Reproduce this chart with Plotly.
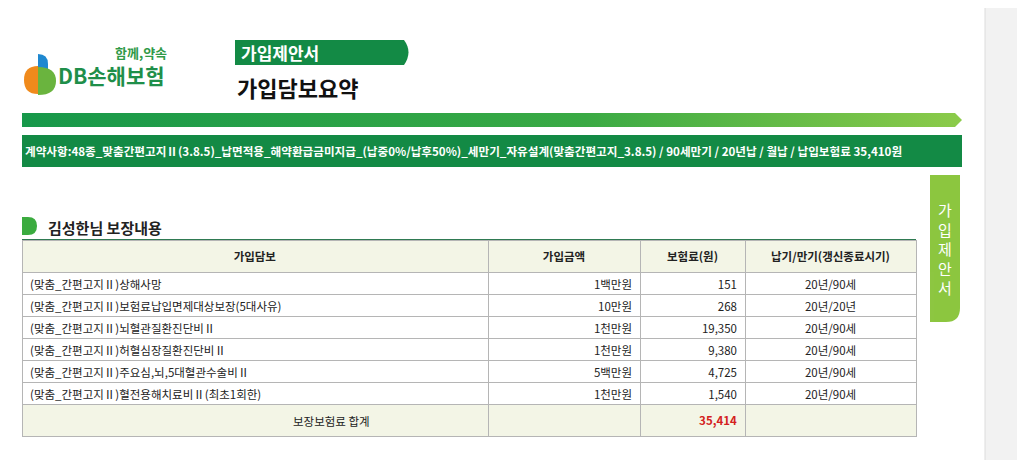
import plotly.graph_objects as go

# DATA
coverages = [
    "(맞춤_간편고지Ⅱ)상해사망",
    "(맞춤_간편고지Ⅱ)보험료납입면제대상보장(5대사유)",
    "(맞춤_간편고지Ⅱ)뇌혈관질환진단비Ⅱ",
    "(맞춤_간편고지Ⅱ)허혈심장질환진단비Ⅱ",
    "(맞춤_간편고지Ⅱ)주요심,뇌,5대혈관수술비Ⅱ",
    "(맞춤_간편고지Ⅱ)혈전용해치료비Ⅱ(최초1회한)",
]
amounts = ["1백만원", "10만원", "1천만원", "1천만원", "5백만원", "1천만원"]
premiums = [151, 268, 19350, 9380, 4725, 1540]
terms = ["20년/90세", "20년/20년", "20년/90세", "20년/90세", "20년/90세", "20년/90세"]
headers = ["가입담보", "가입금액", "보험료(원)", "납기/만기(갱신종료시기)"]
total_label = "보장보험료 합계"
total_premium = 35414
contract_text = ("계약사항:48종_맞춤간편고지Ⅱ(3.8.5)_납면적용_해약환급금미지급_(납중0%/납후50%)_세만기_자유설계(맞춤간편고지_3.8.5)"
                 " / 90세만기 / 20년납 / 월납 / 납입보험료 35,410원")

W, H = 1025, 460
OFF = 8  # page body margin
FONT = "Noto Sans CJK KR"
GREEN = "#138a45"

def px(x):
    return (x - OFF) / W

def py(y):
    return 1 - (y - OFF) / H

fig = go.Figure()

# gradient bar
fig.add_trace(go.Scatter(x=[22, 955, 962, 955, 22, 22], y=[113, 113, 120, 127, 127, 113],
                         fill="toself", mode="none", hoverinfo="skip",
                         fillgradient=dict(type="horizontal",
                                           colorscale=[[0, "#17984a"], [0.6, "#3aaa44"], [1, "#8ccb4a"]])))

# table
col_names = coverages + [""]
col_amt = amounts + [""]
col_prem = [f"{p:,}" for p in premiums] + [f"<b>{total_premium:,}</b>"]
col_term = terms + [""]
fill = ["white"] * len(coverages) + ["#f3f5e6"]
fig.add_trace(go.Table(
    domain=dict(x=[px(22), px(916)], y=[py(440), py(240)]),
    columnwidth=[466, 152, 105, 171],
    header=dict(values=[f"<b>{h}</b>" for h in headers], fill_color="#f3f5e6",
                line=dict(color="#b5b5b5", width=1), align="center", height=16,
                font=dict(family=FONT, size=11.5, color="#222")),
    cells=dict(values=[col_names, col_amt, col_prem, col_term],
               fill_color=[fill] * 4, line=dict(color="#b5b5b5", width=1),
               align=["left", "right", "right", "center"], height=22,
               font=dict(family=FONT, size=11.5, color=["#222", "#222", ["#222"] * 6 + ["#d32020"], "#222"]))))

shapes = [
    # right gray strip
    dict(type="rect", x0=985, x1=1040, y0=0, y1=470, fillcolor="#f2f2f2", line=dict(color="#dcdcdc", width=1)),
    # header tab
    dict(type="path", path="M 235 40 L 404 40 Q 413 52 404 65 L 235 65 Z", fillcolor=GREEN, line_width=0),
    # contract banner
    dict(type="rect", x0=22, x1=962, y0=135, y1=167, fillcolor=GREEN, line_width=0),
    # side tab
    dict(type="path", path="M 930 175 L 960 175 L 960 308 Q 960 322 946 322 L 930 322 Z",
         fillcolor="#8cc63f", line_width=0),
    # logo pieces
    dict(type="path", path="M 38 54 Q 48 54 48 64 L 48 76 L 38 76 Z", fillcolor="#1e88d0", line_width=0),
    dict(type="path", path="M 38 66 Q 24 66 24 80 Q 24 94 38 94 Z", fillcolor="#f08a1c", line_width=0),
    dict(type="path", path="M 38 67 Q 56 67 56 81 Q 56 95 38 95 Z", fillcolor="#6ab43e", line_width=0),
    # section marker
    dict(type="path", path="M 22 217 L 28 217 Q 37 217 37 226 Q 37 235 28 235 L 22 235 Z",
         fillcolor="#3bab3f", line_width=0),
    # table top line
    dict(type="line", x0=22, x1=916, y0=240, y1=240, line=dict(color="#2f7a52", width=2)),
]
for s in shapes:
    s.update(xref="x", yref="y", layer="below")
    fig.add_shape(**s)

ann = [
    dict(x=169, y=52, text="<b>함께,약속</b>", size=13, color="#2f9a48", xanchor="right"),
    dict(x=56, y=75, text="<b>DB손해보험</b>", size=21, color="#1f8f4a", xanchor="left"),
    dict(x=239, y=52, text="<b>가입제안서</b>", size=17, color="white", xanchor="left"),
    dict(x=235, y=87, text="<b>가입담보요약</b>", size=22, color="#111", xanchor="left"),
    dict(x=23, y=151, text=f"<b>{contract_text}</b>", size=11.6, color="white", xanchor="left"),
    dict(x=46, y=227, text="<b>김성한님 보장내용</b>", size=15, color="#222", xanchor="left"),
    dict(x=331, y=421, text=total_label, size=11.5, color="#222", xanchor="center"),
    dict(x=945, y=248, text="<br>".join("가입제안서"), size=15, color="white", xanchor="center"),
]
for a in ann:
    fig.add_annotation(x=a["x"], y=a["y"], xref="x", yref="y", text=a["text"], showarrow=False,
                       xanchor=a["xanchor"], yanchor="middle",
                       font=dict(family=FONT, size=a["size"], color=a["color"]))

fig.update_layout(width=W, height=H, margin=dict(l=0, r=0, t=0, b=0), showlegend=False,
                  paper_bgcolor="white", plot_bgcolor="white",
                  xaxis=dict(range=[OFF, W + OFF], visible=False, fixedrange=True),
                  yaxis=dict(range=[H + OFF, OFF], visible=False, fixedrange=True))

fig.write_html("out.html")
